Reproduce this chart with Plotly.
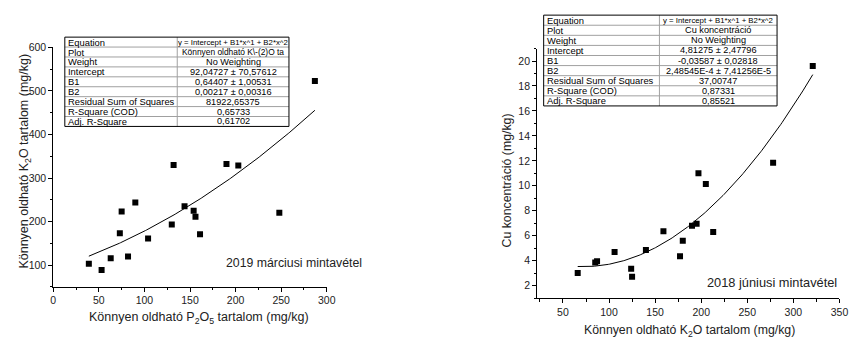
import numpy as np
import plotly.graph_objects as go

W, H = 861, 340
FONT = "Arial, 'Liberation Sans', sans-serif"

# ---- Data: left panel (2019 March) ----
p2o5 = [39, 53, 63, 73, 75, 82, 90, 104, 130, 132, 144, 154, 156, 161, 190, 203, 248, 287]
k2o = [103, 89, 116, 173, 223, 120, 244, 161, 193, 330, 235, 225, 211, 171, 332, 329, 220, 523]
fit_left = [92.04727, 0.64407, 0.00217]

# ---- Data: right panel (2018 June) ----
k2o_r = [66, 85, 87, 106, 124, 125, 140, 159, 177, 180, 190, 195, 197, 205, 213, 278, 321]
cu = [3.0, 3.85, 3.95, 4.7, 3.35, 2.7, 4.85, 6.35, 4.35, 5.6, 6.8, 6.95, 11.0, 10.15, 6.3, 11.85, 19.6]
fit_right = [4.81275, -0.03587, 2.48545e-4]

tbl_labels = ["Equation", "Plot", "Weight", "Intercept", "B1", "B2",
              "Residual Sum of Squares", "R-Square (COD)", "Adj. R-Square"]
tbl_left_vals = ["y = Intercept + B1*x^1 + B2*x^2", "Könnyen oldható K\\-(2)O ta", "No Weighting",
                 "92,04727 ± 70,57612", "0,64407 ± 1,00531", "0,00217 ± 0,00316",
                 "81922,65375", "0,65733", "0,61702"]
tbl_right_vals = ["y = Intercept + B1*x^1 + B2*x^2", "Cu koncentráció", "No Weighting",
                  "4,81275 ± 2,47796", "-0,03587 ± 0,02818", "2,48545E-4 ± 7,41256E-5",
                  "37,00747", "0,87331", "0,85521"]


def px(x):
    return x / W


def py(y):
    return 1 - y / H


def poly(c, x):
    x = np.asarray(x, dtype=float)
    return c[0] + c[1] * x + c[2] * x ** 2


fig = go.Figure()

fig.add_trace(go.Scatter(x=p2o5, y=k2o, mode="markers", xaxis="x", yaxis="y",
                         marker=dict(symbol="square", size=6, color="black"), showlegend=False))
xl = np.linspace(min(p2o5), max(p2o5), 200)
fig.add_trace(go.Scatter(x=xl, y=poly(fit_left, xl), mode="lines", xaxis="x", yaxis="y",
                         line=dict(color="black", width=1), showlegend=False))

fig.add_trace(go.Scatter(x=k2o_r, y=cu, mode="markers", xaxis="x2", yaxis="y2",
                         marker=dict(symbol="square", size=6, color="black"), showlegend=False))
xr = np.linspace(min(k2o_r), max(k2o_r), 200)
fig.add_trace(go.Scatter(x=xr, y=poly(fit_right, xr), mode="lines", xaxis="x2", yaxis="y2",
                         line=dict(color="black", width=1), showlegend=False))

axis_common = dict(showgrid=False, zeroline=False, showline=True, linecolor="black", linewidth=1,
                   ticks="outside", ticklen=4, tickwidth=1, tickcolor="black",
                   tickfont=dict(family=FONT, size=10.5, color="#222"))

fig.update_layout(
    width=W, height=H, margin=dict(l=0, r=0, t=0, b=0),
    paper_bgcolor="white", plot_bgcolor="white",
    xaxis=dict(domain=[px(51), px(328.3)], range=[0, 300], anchor="y", dtick=50,
               minor=dict(dtick=25, ticks="outside", ticklen=2.5, tickcolor="black"), **axis_common),
    yaxis=dict(domain=[py(285.9), py(42.2)], range=[50, 600], anchor="x", tickvals=[100, 200, 300, 400, 500, 600],
               minor=dict(dtick=50, ticks="outside", ticklen=2.5, tickcolor="black"), **axis_common),
    xaxis2=dict(domain=[px(541.7), px(848.3)], range=[22, 350], anchor="y2", tickvals=[50, 100, 150, 200, 250, 300, 350],
                minor=dict(tickvals=[25, 75, 125, 175, 225, 275, 325], ticks="outside", ticklen=2.5, tickcolor="black"), **axis_common),
    yaxis2=dict(domain=[py(297.3), py(43.3)], range=[1, 21], anchor="x2", tickvals=list(range(2, 21, 2)),
                minor=dict(dtick=1, ticks="outside", ticklen=2.5, tickcolor="black"), **axis_common),
)

ann = []
shapes = []


def text(t, x, y, size, xanchor="center", angle=0, color="#222"):
    ann.append(dict(text=t, x=px(x), y=py(y), xanchor=xanchor, yanchor="middle", textangle=angle,
                    xref="paper", yref="paper", showarrow=False,
                    font=dict(family=FONT, size=size, color=color)))


# axis titles
text("Könnyen oldható P<sub>2</sub>O<sub>5</sub> tartalom (mg/kg)", 199, 318, 12.5)
text("Könnyen oldható K<sub>2</sub>O tartalom (mg/kg)", 22.7, 158, 12.5, angle=-90)
text("Könnyen oldható K<sub>2</sub>O tartalom (mg/kg)", 696, 331, 12.3)
text("Cu koncentráció (mg/kg)", 510.7, 178, 12.3, angle=-90)
# sample labels
text("2019 márciusi mintavétel", 224, 262, 12.3, xanchor="left")
text("2018 júniusi mintavétel", 711.5, 281, 12.8, xanchor="left")


def add_table(x0, xs, x1, y0, rh, values):
    n = len(tbl_labels)
    y1 = y0 + n * rh
    for i in range(1, n):
        shapes.append(dict(type="line", xref="paper", yref="paper", x0=px(x0), x1=px(x1),
                           y0=py(y0 + i * rh), y1=py(y0 + i * rh), line=dict(color="#a0a0a0", width=1)))
    shapes.append(dict(type="line", xref="paper", yref="paper", x0=px(xs), x1=px(xs),
                       y0=py(y0), y1=py(y1), line=dict(color="#a0a0a0", width=1)))
    shapes.append(dict(type="rect", xref="paper", yref="paper", x0=px(x0), x1=px(x1),
                       y0=py(y1), y1=py(y0), line=dict(color="black", width=1)))
    for i, (lab, val) in enumerate(zip(tbl_labels, values)):
        yc = y0 + (i + 0.5) * rh
        text(lab, x0 + 1.5, yc, 9.4, xanchor="left", color="black")
        size = 7.8 if i == 0 else 9.2
        if len(val) > 23 and i > 0:
            size = 8.4
        text(val, (xs + x1) / 2, yc, size, color="black")


add_table(62.7, 176.7, 290.0, 31.7, 10.1, tbl_left_vals)
add_table(548.3, 665.7, 785.0, 9.3, 10.27, tbl_right_vals)

fig.update_layout(annotations=ann, shapes=shapes)
fig.write_html("out.html")
